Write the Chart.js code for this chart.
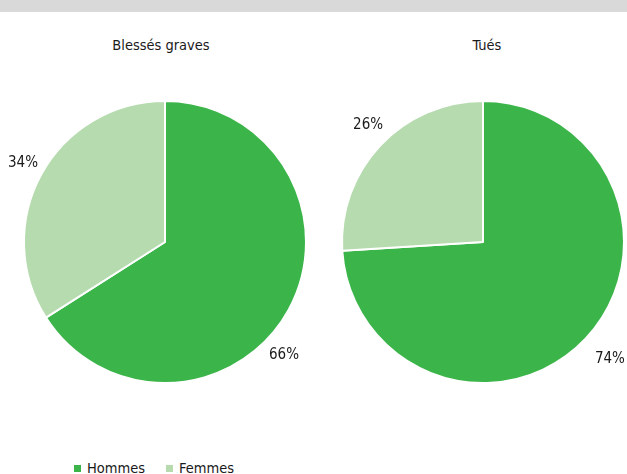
<!DOCTYPE html>
<html lang="fr">
<head>
<meta charset="utf-8">
<title>Blessés graves et tués selon le sexe</title>
<script src="https://cdn.jsdelivr.net/npm/chart.js@4.4.1/dist/chart.umd.min.js"></script>
<style>
  html, body { margin: 0; padding: 0; }
  body {
    width: 627px; height: 474px; overflow: hidden; position: relative; background: #fff;
    font-family: "Liberation Sans Narrow", "Arial Narrow", "DejaVu Sans Condensed", sans-serif;
    color: #1a1a1a;
  }
  .band { position: absolute; left: 0; top: 0; width: 627px; height: 12px; background: #d9d9d9; }
  .title { position: absolute; top: 35px; width: 200px; text-align: center; font-size: 14.5px; line-height: 20px; }
  .pie { position: absolute; top: 82px; height: 320px; }
  #legend { position: absolute; left: 74px; top: 458px; display: flex; align-items: center; font-size: 14.5px; line-height: 20px; white-space: nowrap; }
  #legend .item { display: flex; align-items: center; margin-right: 21px; }
  #legend .swatch { width: 7px; height: 7px; margin-right: 6px; }
</style>
</head>
<body>
<div class="band"></div>
<div class="title" id="title1" style="left:61px;"></div>
<div class="title" id="title2" style="left:387px;"></div>
<div class="pie" style="left:0px;width:330px;"><canvas id="pie1" width="330" height="320"></canvas></div>
<div class="pie" style="left:339px;width:288px;"><canvas id="pie2" width="288" height="320"></canvas></div>
<div id="legend"></div>

<script>
// Répartition par sexe (%)
const categories = ["Hommes", "Femmes"];
const panelTitles = ["Blessés graves", "Tués"];
const blessesGraves = [66, 34];
const tues = [74, 26];
const colors = ["#3bb54a", "#b5dbae"];

// Étiquettes de pourcentage placées à l'extérieur des secteurs
const outsideLabels = {
  id: "outsideLabels",
  afterDatasetsDraw(chart, args, opts) {
    const ctx = chart.ctx;
    const meta = chart.getDatasetMeta(0);
    const values = chart.data.datasets[0].data;
    ctx.save();
    ctx.font = "15px 'Liberation Sans Narrow', 'Arial Narrow', 'DejaVu Sans Condensed', sans-serif";
    ctx.fillStyle = "#1a1a1a";
    ctx.textAlign = "center";
    ctx.textBaseline = "middle";
    meta.data.forEach((arc, i) => {
      const p = opts.place[i];
      const a = (arc.startAngle + arc.endAngle) / 2 + p.nudge * Math.PI / 180;
      const x = arc.x + Math.cos(a) * p.dist;
      const y = arc.y + Math.sin(a) * p.dist;
      ctx.fillText(values[i] + "%", x, y);
    });
    ctx.restore();
  }
};

function makePie(id, values, place) {
  return new Chart(document.getElementById(id), {
    type: "pie",
    data: {
      labels: categories,
      datasets: [{
        data: values,
        backgroundColor: colors,
        borderColor: "#ffffff",
        borderWidth: 2,
        radius: 141
      }]
    },
    options: {
      responsive: false,
      animation: false,
      events: [],
      layout: { padding: 0 },
      plugins: {
        legend: { display: false },
        title: { display: false },
        tooltip: { enabled: false },
        outsideLabels: { place: place }
      }
    },
    plugins: [outsideLabels]
  });
}

document.getElementById("title1").textContent = panelTitles[0];
document.getElementById("title2").textContent = panelTitles[1];

makePie("pie1", blessesGraves, [{ nudge: 14.7, dist: 164 }, { nudge: 0.3, dist: 162.5 }]);
makePie("pie2", tues, [{ nudge: -0.5, dist: 172.7 }, { nudge: 2.3, dist: 164 }]);

// Légende commune
const legend = document.getElementById("legend");
categories.forEach((name, i) => {
  const item = document.createElement("span");
  item.className = "item";
  const sw = document.createElement("span");
  sw.className = "swatch";
  sw.style.background = colors[i];
  const tx = document.createElement("span");
  tx.textContent = name;
  item.appendChild(sw);
  item.appendChild(tx);
  legend.appendChild(item);
});
</script>
</body>
</html>
